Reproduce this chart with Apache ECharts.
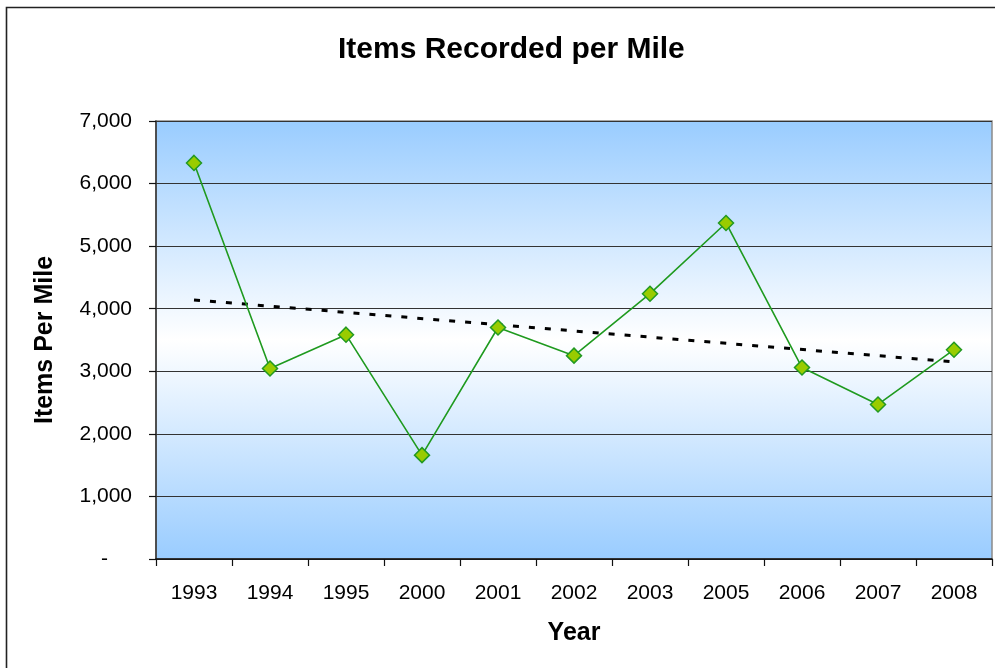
<!DOCTYPE html>
<html>
<head>
<meta charset="utf-8">
<script src="https://cdn.jsdelivr.net/npm/echarts@6/dist/echarts.min.js"></script>
<style>
html,body{margin:0;padding:0;background:#fff;}
#chart{width:995px;height:668px;}
</style>
</head>
<body>
<div id="chart"></div>
<script>
const years = ['1993','1994','1995','2000','2001','2002','2003','2005','2006','2007','2008'];
const itemsPerMile = [6330, 3045, 3585, 1660, 3700, 3250, 4240, 5370, 3060, 2470, 3345];
const trendEnds = [4140, 3150];
const yTicks = [0, 1000, 2000, 3000, 4000, 5000, 6000, 7000];

const trendData = years.map((y, i) => i === 0 ? trendEnds[0] : (i === years.length - 1 ? trendEnds[1] : null));
const FONT = "'Liberation Sans', Arial, sans-serif";

const chart = echarts.init(document.getElementById('chart'), null, {renderer: 'canvas'});
chart.setOption({
  animation: false,
  backgroundColor: '#fff',
  title: {
    text: 'Items Recorded per Mile',
    left: 333,
    top: 30,
    textStyle: {fontFamily: FONT, fontSize: 30, fontWeight: 'bold', color: '#000'}
  },
  graphic: [{
    type: 'rect', silent: true, z: 100,
    shape: {x: 6.5, y: 7.5, width: 1100, height: 800},
    style: {fill: 'none', stroke: '#222', lineWidth: 1.6}
  }],
  grid: {
    left: 156, top: 121, right: 3, bottom: 109,
    show: true,
    borderColor: '#8a8a8a', borderWidth: 1.5,
    backgroundColor: new echarts.graphic.LinearGradient(0, 0, 0, 1, [
      {offset: 0, color: '#99CCFF'},
      {offset: 0.5, color: '#FFFFFF'},
      {offset: 1, color: '#99CCFF'}
    ])
  },
  xAxis: {
    type: 'category',
    data: years,
    boundaryGap: true,
    name: 'Year',
    nameLocation: 'middle',
    nameGap: 62,
    nameTextStyle: {fontFamily: FONT, fontSize: 25, fontWeight: 'bold', color: '#000'},
    axisLine: {lineStyle: {color: '#111', width: 1.5}},
    axisTick: {show: true, length: 7, alignWithLabel: false, lineStyle: {color: '#111', width: 1.2}},
    axisLabel: {fontFamily: FONT, fontSize: 21, color: '#000', margin: 24, interval: 0},
    splitLine: {show: false}
  },
  yAxis: {
    type: 'value',
    min: 0, max: 7000, interval: 1000,
    name: 'Items Per Mile',
    nameLocation: 'middle',
    nameRotate: 90,
    nameGap: 98,
    nameTextStyle: {fontFamily: FONT, fontSize: 25, fontWeight: 'bold', color: '#000'},
    axisLine: {show: true, lineStyle: {color: '#333', width: 1.5}},
    axisTick: {show: true, length: 7, lineStyle: {color: '#111', width: 1.2}},
    axisLabel: {
      fontFamily: FONT, fontSize: 21, color: '#000', margin: 24,
      formatter: v => v === 0 ? '{d|-}' : v.toLocaleString('en-US'),
      rich: {d: {fontFamily: FONT, fontSize: 21, color: '#000', padding: [0, 24, 0, 0]}}
    },
    splitLine: {show: true, lineStyle: {color: '#333', width: 1.2}}
  },
  series: [
    {
      name: 'Items Per Mile',
      type: 'line',
      data: itemsPerMile,
      symbol: 'diamond',
      symbolSize: 15,
      z: 3,
      lineStyle: {color: '#1F9A1F', width: 1.6},
      itemStyle: {color: '#99CC00', borderColor: '#229922', borderWidth: 1.5}
    },
    {
      name: 'Trend',
      type: 'line',
      data: trendData,
      connectNulls: true,
      symbol: 'none',
      z: 2,
      lineStyle: {color: '#000', width: 3, type: [6, 10]}
    }
  ]
});
</script>
</body>
</html>
